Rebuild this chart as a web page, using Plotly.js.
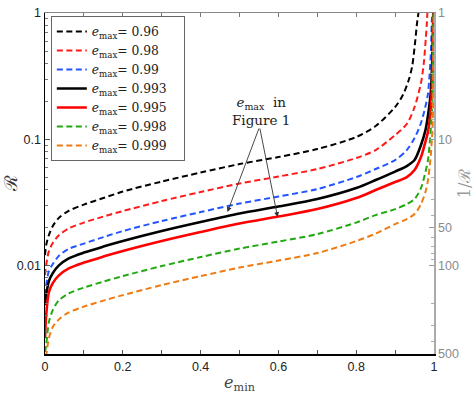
<!DOCTYPE html>
<html><head><meta charset="utf-8">
<script src="https://cdn.plot.ly/plotly-3.0.1.min.js"></script>
<style>html,body{margin:0;padding:0;background:#fff}#chart{width:474px;height:397px}</style>
</head><body><div id="chart"></div>
<script>
// e_max values of the seven curves
const eMaxLabels = ["0.96","0.98","0.99","0.993","0.995","0.998","0.999"];

// e_min (x) and R (y), per curve
const eMin096 = [0,0.003,0.01,0.02,0.035,0.06,0.1,0.15,0.2,0.3,0.4,0.5,0.6,0.7,0.8,0.85,0.9,0.92,0.935,0.944,0.952,0.9567,0.9601];
const R096 = [0.01213,0.01456,0.01747,0.02060,0.02381,0.02706,0.03046,0.03429,0.03862,0.04634,0.05459,0.06372,0.07242,0.08379,0.1043,0.1274,0.1802,0.2243,0.2946,0.3805,0.6111,0.8486,1];

const eMin098 = [0,0.003,0.01,0.02,0.035,0.06,0.1,0.15,0.2,0.3,0.4,0.5,0.6,0.7,0.8,0.85,0.9,0.93,0.95,0.9665,0.974,0.979,0.9815,0.983];
const R098 = [0.00843,0.01011,0.01305,0.01510,0.01731,0.01967,0.02194,0.02448,0.02706,0.03247,0.03828,0.04467,0.05076,0.05819,0.07112,0.08227,0.1081,0.1322,0.1802,0.2790,0.4093,0.6341,0.8182,1];

const eMin099 = [0,0.003,0.01,0.02,0.035,0.06,0.1,0.15,0.2,0.3,0.4,0.5,0.6,0.7,0.8,0.85,0.9,0.93,0.95,0.9665,0.977,0.984,0.9885,0.9923,0.9948,0.996];
const R099 = [0.00585,0.00702,0.00906,0.01030,0.01191,0.01353,0.01496,0.01684,0.01879,0.02255,0.02657,0.03102,0.03524,0.04042,0.05028,0.05821,0.06855,0.08227,0.1024,0.1346,0.1770,0.2243,0.3229,0.5093,0.9128,1];

const eMin0993 = [0,0.003,0.01,0.02,0.035,0.06,0.1,0.15,0.2,0.3,0.4,0.5,0.6,0.7,0.8,0.85,0.9,0.93,0.95,0.9665,0.9781,0.9866,0.9923,0.9956,0.9974,0.9982];
const R0993 = [0.00488,0.00585,0.00755,0.00873,0.01002,0.01138,0.01270,0.01416,0.01566,0.01879,0.02214,0.02585,0.02937,0.03367,0.04113,0.04762,0.05559,0.06146,0.06855,0.0901,0.1185,0.1706,0.2455,0.4246,0.7334,1];

const eMin0995 = [0,0.003,0.01,0.02,0.035,0.06,0.1,0.15,0.2,0.3,0.4,0.5,0.6,0.7,0.8,0.85,0.9,0.93,0.95,0.9665,0.977,0.9838,0.9895,0.9946,0.9974,0.999];
const R0995 = [0.00267,0.00406,0.00618,0.00728,0.00835,0.00948,0.01058,0.01180,0.01305,0.01566,0.01845,0.02154,0.02448,0.02806,0.03428,0.03969,0.04590,0.05028,0.05715,0.07244,0.09346,0.1122,0.1475,0.2455,0.5093,1];

const eMin0998 = [0,0.003,0.01,0.02,0.035,0.06,0.1,0.15,0.2,0.3,0.4,0.5,0.6,0.7,0.8,0.85,0.9,0.93,0.95,0.9665,0.978,0.9845,0.989,0.9923,0.9966,0.998,0.9985];
const R0998 = [0.00207,0.00235,0.00358,0.00445,0.00529,0.00601,0.00671,0.00748,0.00827,0.00993,0.01170,0.01366,0.01552,0.01779,0.02194,0.02515,0.02805,0.03075,0.03367,0.04114,0.05508,0.06855,0.09346,0.1298,0.2243,0.6111,1];

const eMin0999 = [0,0.003,0.01,0.02,0.035,0.06,0.1,0.15,0.2,0.3,0.4,0.5,0.6,0.7,0.8,0.85,0.9,0.93,0.95,0.9665,0.978,0.9845,0.9906,0.9945,0.997,0.998,0.9988,0.9992];
const R0999 = [0.00160,0.00192,0.00267,0.00327,0.00374,0.00425,0.00474,0.00529,0.00585,0.00702,0.00827,0.00966,0.01098,0.01259,0.01566,0.01795,0.02135,0.02339,0.02562,0.03075,0.03828,0.04760,0.06855,0.09874,0.1422,0.2946,0.6111,1];

// axis ticks
const xTickVals = [0,0.2,0.4,0.6,0.8,1];
const xTickText = ["0","0.2","0.4","0.6","0.8","1"];
const yTickVals = [0.01,0.1,1];
const yTickText = ["0.01","0.1","1"];
const invTickVals = [1,10,50,100,500];
const invTickText = ["1","10","50","100","500"];

const xs = [eMin096,eMin098,eMin099,eMin0993,eMin0995,eMin0998,eMin0999];
const ys = [R096,R098,R099,R0993,R0995,R0998,R0999];
const colors = ["#000000","#ff1a1a","#2255ff","#000000","#ff0000","#22a811","#f07a12"];
const dashes = ["6px,3.5px","6px,3.5px","6px,3.5px","solid","solid","6px,3.5px","6px,3.5px"];
const widths = [2,2,2,2.6,2.6,2,2];

const traces = xs.map((x,i)=>({
  x: x, y: ys[i], type:'scatter', mode:'lines',
  name: '<i>e</i><sub>max</sub>= ' + eMaxLabels[i] + '\u00a0\u00a0\u00a0',
  line:{color:colors[i], dash:dashes[i], width:widths[i], shape:'spline', smoothing:0.8},
  hoverinfo:'skip'
}));
// same black solid series on the 1/R scale (invisible), so the right-hand 1/R axis is drawn
traces.push({x: eMin0993, y: R0993.map(r=>1/r), xaxis:'x2', yaxis:'y2', type:'scatter', mode:'lines',
  line:{width:0, color:'rgba(0,0,0,0)'}, showlegend:false, hoverinfo:'skip'});

function minorLog(lo, hi){ const v=[]; for(let d=lo; d<hi; d*=10){ for(let k=2;k<=9;k++){ v.push(+(k*d).toPrecision(3)); } } return v; }

const serif = "DejaVu Serif, Liberation Serif, serif";
const sans = "Liberation Sans, Arial, sans-serif";

const layout = {
  width:474, height:397,
  margin:{l:45, r:40, t:13, b:43},
  paper_bgcolor:'#fff', plot_bgcolor:'#fff',
  showlegend:true,
  legend:{x:0.015, y:0.991, xanchor:'left', yanchor:'top', bgcolor:'#fff',
          bordercolor:'#666', borderwidth:1, font:{family:serif, size:12.3, color:'#222'},
          tracegroupgap:0, itemwidth:30},
  xaxis:{range:[0,1], tickvals:xTickVals, ticktext:xTickText, ticks:'inside', ticklen:4,
         tickcolor:'#555', showline:true, linecolor:'#000', linewidth:1.5, showgrid:false, zeroline:false,
         tickfont:{family:sans, size:12.5, color:'#222'},
         minor:{tickvals:[0.1,0.3,0.5,0.7,0.9], ticks:'inside', ticklen:4, tickcolor:'#555'},
         title:{text:'<i>e</i><sub>min</sub>', font:{family:serif, size:16, color:'#444'}, standoff:4}},
  xaxis2:{range:[0,1], overlaying:'x', side:'top', anchor:'y2', tickvals:[0,0.1,0.2,0.3,0.4,0.5,0.6,0.7,0.8,0.9,1],
          ticks:'inside', ticklen:4, tickcolor:'#777', showticklabels:false, showline:true,
          linecolor:'#888', linewidth:1.2, showgrid:false, zeroline:false},
  yaxis:{type:'log', range:[Math.log10(0.002),0], tickvals:yTickVals, ticktext:yTickText,
         ticks:'inside', ticklen:5, tickcolor:'#555', showline:true, linecolor:'#000', linewidth:1.5,
         showgrid:false, zeroline:false, tickfont:{family:sans, size:12.5, color:'#222'},
         minor:{tickvals:minorLog(0.001,1).filter(v=>v>=0.002), ticks:'inside', ticklen:3, tickcolor:'#777'},
         title:{text:'ℛ', font:{family:serif, size:18, color:'#333'}, standoff:10}},
  yaxis2:{type:'log', overlaying:'y', side:'right', anchor:'x2', range:[Math.log10(500),0],
          tickvals:invTickVals, ticktext:invTickText, ticks:'inside', ticklen:5, tickcolor:'#999',
          showline:true, linecolor:'#aaa', linewidth:1.5, showgrid:false, zeroline:false,
          tickfont:{family:sans, size:12.5, color:'#8a8a8a'},
          minor:{tickvals:minorLog(1,1000).filter(v=>v<=500 && v!==50), ticks:'inside', ticklen:3, tickcolor:'#aaa'},
          title:{text:'1/ℛ', font:{family:serif, size:16, color:'#999'}, standoff:4}},
  annotations:[
    {xref:'x', yref:'y', x:0.554, y:Math.log10(0.118), text:'<i>e</i><sub>max</sub>  in<br>Figure 1',
     showarrow:false, font:{family:serif, size:13.5, color:'#222'}, align:'center', yanchor:'bottom'},
    {xref:'x', yref:'y', x:0.469, y:Math.log10(0.02657), ax:32, ay:-85, text:'', showarrow:true,
     arrowhead:2, arrowsize:1.1, arrowwidth:0.9, arrowcolor:'#333'},
    {xref:'x', yref:'y', x:0.598, y:Math.log10(0.02426), ax:-18, ay:-90, text:'', showarrow:true,
     arrowhead:2, arrowsize:1.1, arrowwidth:0.9, arrowcolor:'#333'}
  ]
};

Plotly.newPlot('chart', traces, layout, {staticPlot:true, displayModeBar:false});
</script></body></html>
